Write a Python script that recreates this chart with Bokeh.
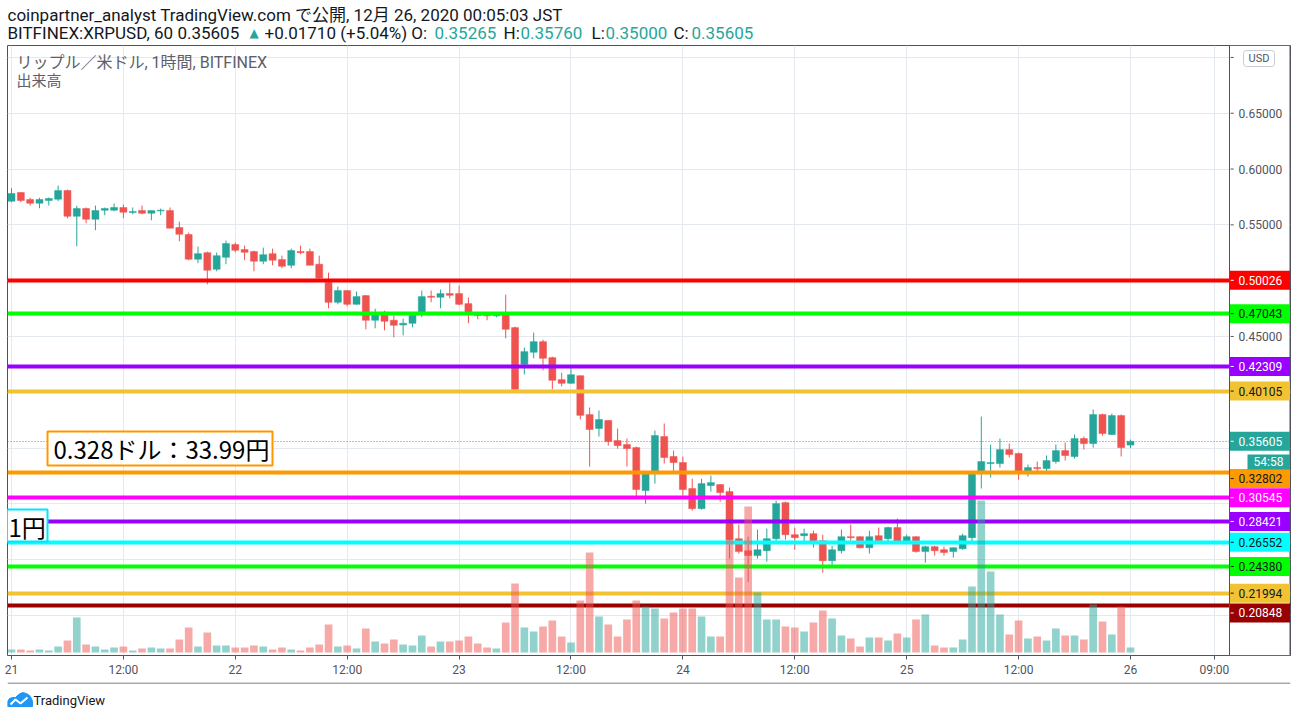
from bokeh.plotting import figure
from bokeh.layouts import column
from bokeh.models import (Range1d, FixedTicker, Label, BoxAnnotation, ColumnDataSource,
                          NumeralTickFormatter)
from bokeh.embed import file_html
from bokeh.resources import INLINE

# ---------------- data (hourly candles, Dec 21 00:00 .. Dec 26 00:00 JST) ----------------
hours = list(range(121))
opens = [0.5712, 0.5790, 0.5727, 0.5694, 0.5718, 0.5730, 0.5807, 0.5577, 0.5646, 0.5550,
         0.5631, 0.5631, 0.5655, 0.5610, 0.5628, 0.5604, 0.5625, 0.5628, 0.5476, 0.5413,
         0.5192, 0.5251, 0.5102, 0.5209, 0.5323, 0.5278, 0.5260, 0.5174, 0.5242, 0.5189,
         0.5138, 0.5260, 0.5260, 0.5147, 0.4983, 0.4806, 0.4911, 0.4788, 0.4866, 0.4645,
         0.4717, 0.4645, 0.4603, 0.4618, 0.4717, 0.4860, 0.4851, 0.4884, 0.4884, 0.4794,
         0.4696, 0.4690, 0.4684, 0.4708, 0.4579, 0.4250, 0.4358, 0.4453, 0.4310, 0.4113,
         0.4080, 0.4148, 0.3800, 0.3675, 0.3747, 0.3567, 0.3531, 0.3504, 0.3119, 0.3289,
         0.3603, 0.3424, 0.3370, 0.3137, 0.2957, 0.3164, 0.3173, 0.3110, 0.2688, 0.2580,
         0.2536, 0.2580, 0.2688, 0.3011, 0.2724, 0.2715, 0.2733, 0.2670, 0.2491, 0.2580,
         0.2706, 0.2706, 0.2607, 0.2715, 0.2688, 0.2787, 0.2661, 0.2706, 0.2572, 0.2616,
         0.2589, 0.2572, 0.2598, 0.2697, 0.3280, 0.3361, 0.3361, 0.3486, 0.3451, 0.3289,
         0.3325, 0.3316, 0.3379, 0.3477, 0.3424, 0.3585, 0.3540, 0.3800, 0.3621, 0.3791,
         0.35265]
highs = [0.5828, 0.5792, 0.5742, 0.5742, 0.5745, 0.5852, 0.5816, 0.5670, 0.5655, 0.5673,
         0.5655, 0.5691, 0.5682, 0.5655, 0.5673, 0.5628, 0.5646, 0.5655, 0.5529, 0.5431,
         0.5305, 0.5260, 0.5251, 0.5359, 0.5341, 0.5314, 0.5269, 0.5296, 0.5287, 0.5224,
         0.5287, 0.5314, 0.5287, 0.5224, 0.5072, 0.4947, 0.4915, 0.4902, 0.4870, 0.4749,
         0.4731, 0.4690, 0.4660, 0.4708, 0.4911, 0.4911, 0.4920, 0.4983, 0.4956, 0.4848,
         0.4708, 0.4708, 0.4708, 0.4875, 0.4588, 0.4400, 0.4534, 0.4471, 0.4319, 0.4175,
         0.4214, 0.4150, 0.3863, 0.3836, 0.3750, 0.3675, 0.3585, 0.3513, 0.3285, 0.3657,
         0.3720, 0.3477, 0.3424, 0.3226, 0.3226, 0.3253, 0.3176, 0.3146, 0.2814, 0.2706,
         0.2769, 0.2778, 0.3029, 0.3020, 0.2787, 0.2778, 0.2760, 0.2724, 0.2625, 0.2769,
         0.2814, 0.2710, 0.2760, 0.2787, 0.2796, 0.2868, 0.2724, 0.2710, 0.2625, 0.2625,
         0.2616, 0.2610, 0.2733, 0.3280, 0.3782, 0.3531, 0.3585, 0.3540, 0.3460, 0.3352,
         0.3379, 0.3433, 0.3531, 0.3549, 0.3621, 0.3603, 0.3845, 0.3809, 0.3809, 0.3800,
         0.35760]
lows = [0.5703, 0.5703, 0.5673, 0.5649, 0.5673, 0.5712, 0.5559, 0.5308, 0.5514, 0.5452,
        0.5586, 0.5622, 0.5559, 0.5595, 0.5595, 0.5541, 0.5586, 0.5470, 0.5353, 0.5183,
        0.5156, 0.4967, 0.5084, 0.5147, 0.5254, 0.5183, 0.5084, 0.5147, 0.5138, 0.5111,
        0.5111, 0.5236, 0.5138, 0.5015, 0.4752, 0.4788, 0.4770, 0.4785, 0.4564, 0.4573,
        0.4555, 0.4492, 0.4510, 0.4582, 0.4672, 0.4806, 0.4752, 0.4842, 0.4779, 0.4618,
        0.4654, 0.4645, 0.4672, 0.4483, 0.4020, 0.4160, 0.4304, 0.4196, 0.4026, 0.4053,
        0.4077, 0.3757, 0.3334, 0.3603, 0.3522, 0.3495, 0.3334, 0.3065, 0.3002, 0.3181,
        0.3361, 0.3289, 0.3074, 0.2939, 0.2948, 0.3110, 0.3020, 0.2509, 0.2554, 0.2300,
        0.2509, 0.2482, 0.2670, 0.2679, 0.2589, 0.2661, 0.2607, 0.2383, 0.2446, 0.2554,
        0.2670, 0.2600, 0.2554, 0.2665, 0.2661, 0.2655, 0.2655, 0.2563, 0.2473, 0.2536,
        0.2536, 0.2518, 0.2589, 0.2661, 0.3137, 0.3235, 0.3325, 0.3415, 0.3217, 0.3244,
        0.3280, 0.3280, 0.3361, 0.3388, 0.3406, 0.3486, 0.3504, 0.3612, 0.3618, 0.3424,
        0.35000]
closes = [0.5781, 0.5718, 0.5694, 0.5727, 0.5736, 0.5807, 0.5577, 0.5646, 0.5550, 0.5628,
          0.5646, 0.5655, 0.5613, 0.5619, 0.5604, 0.5628, 0.5631, 0.5470, 0.5416, 0.5192,
          0.5242, 0.5093, 0.5224, 0.5332, 0.5272, 0.5254, 0.5174, 0.5233, 0.5183, 0.5129,
          0.5269, 0.5251, 0.5138, 0.5022, 0.4806, 0.4911, 0.4788, 0.4857, 0.4645, 0.4708,
          0.4636, 0.4600, 0.4618, 0.4690, 0.4857, 0.4851, 0.4884, 0.4869, 0.4788, 0.4717,
          0.4687, 0.4684, 0.4690, 0.4564, 0.4026, 0.4364, 0.4453, 0.4304, 0.4107, 0.4080,
          0.4157, 0.3793, 0.3666, 0.3756, 0.3558, 0.3522, 0.3495, 0.3128, 0.3280, 0.3612,
          0.3415, 0.3370, 0.3128, 0.2957, 0.3181, 0.3190, 0.3101, 0.2679, 0.2572, 0.2536,
          0.2589, 0.2688, 0.3002, 0.2724, 0.2697, 0.2733, 0.2661, 0.2491, 0.2589, 0.2706,
          0.2697, 0.2607, 0.2706, 0.2670, 0.2787, 0.2661, 0.2706, 0.2572, 0.2616, 0.2580,
          0.2563, 0.2607, 0.2715, 0.3280, 0.3379, 0.3370, 0.3486, 0.3442, 0.3289, 0.3325,
          0.3316, 0.3388, 0.3477, 0.3433, 0.3585, 0.3540, 0.3800, 0.3630, 0.3791, 0.3504,
          0.35605]
volumes = [3, 3, 2, 3, 2, 6, 12, 35, 8, 6, 3, 5, 6, 2, 4, 5, 4, 4, 13, 25,
           6, 20, 7, 7, 5, 5, 7, 6, 3, 5, 3, 2, 5, 8, 28, 6, 7, 4, 24, 11,
           9, 13, 8, 7, 17, 6, 11, 11, 12, 16, 9, 5, 4, 30, 69, 25, 21, 26, 32, 16,
           10, 52, 100, 36, 28, 16, 33, 52, 46, 44, 34, 40, 44, 44, 36, 16, 16, 126, 75, 146,
           60, 33, 33, 26, 25, 21, 30, 42, 34, 17, 14, 6, 15, 15, 12, 19, 15, 33, 38, 7,
           5, 5, 13, 66, 152, 81, 38, 18, 32, 14, 16, 12, 24, 17, 17, 13, 48, 31, 18, 46,
           5]

tick_hours = [0, 12, 24, 36, 48, 60, 72, 84, 96, 108, 120, 129]
tick_labels = ["21", "12:00", "22", "12:00", "23", "12:00", "24", "12:00", "25", "12:00", "26", "09:00"]
price_ticks = [0.45, 0.55, 0.60, 0.65]
grid_prices = [0.20, 0.25, 0.30, 0.35, 0.40, 0.45, 0.50, 0.55, 0.60, 0.65, 0.70]

level_prices = [0.50026, 0.47043, 0.42309, 0.40105, 0.32802, 0.30545, 0.28421, 0.26552, 0.24380, 0.21994, 0.20848]
level_colors = ["#ff0000", "#00ff00", "#9900ff", "#f1c232", "#ff9900", "#ff00ff", "#9900ff", "#00ffff", "#00ff00", "#f1c232", "#990000"]
level_text_colors = ["white", "#131722", "white", "#131722", "#131722", "white", "white", "#131722", "#131722", "#131722", "white"]
level_label_shift_px = [0, 0, 0, 0, 6, 0, 0, 0, 0, 0, 7]

last_close = 0.35605
countdown = "54:58"

GREEN = "#26a69a"
RED = "#ef5350"
TXT = "#131722"
AX = "#50535e"
W = 1296
# all three stacked figures share the same inner frame: page x 7..1290
FL, FR = 7, 6
CHART_END = 130.62      # hour value at the price-column edge (page x 1229)

# ---------------- header ----------------
hdr = figure(width=W, height=45, output_backend="svg", toolbar_location=None,
             x_range=Range1d(FL, W - FR), y_range=Range1d(45, 0),
             x_axis_type=None, y_axis_type=None,
             min_border_left=FL, min_border_right=FR, min_border_top=0, min_border_bottom=0,
             background_fill_color="white", border_fill_color="white")
hdr.outline_line_color = None
hdr.grid.visible = False
hdr.add_layout(Label(x=7, y=14, text="coinpartner_analyst TradingView.com で公開, 12月 26, 2020 00:05:03 JST",
                     text_font="Roboto, 'Noto Sans CJK JP'", text_font_size="17px", text_color=TXT,
                     text_baseline="middle", text_align="left"))
header_parts = [
    ("BITFINEX:XRPUSD, 60 0.35605", 7, TXT, "17px"),
    ("▲", 249, GREEN, "12px"),
    ("+0.01710 (+5.04%) O:", 264, TXT, "17px"),
    ("0.35265", 434, GREEN, "17px"),
    ("H:", 503, TXT, "17px"),
    ("0.35760", 520, GREEN, "17px"),
    ("L:", 591, TXT, "17px"),
    ("0.35000", 605, GREEN, "17px"),
    ("C:", 673, TXT, "17px"),
    ("0.35605", 691, GREEN, "17px"),
]
for txt, hx, col, fs in header_parts:
    hdr.add_layout(Label(x=hx, y=32, text=txt, text_font="Roboto, 'DejaVu Sans'",
                         text_font_size=fs, text_color=col,
                         text_baseline="middle", text_align="left"))

# ---------------- main chart ----------------
# frame: page x 7..1290, y 45..655; chart area ends at x=1229, price column after it
p = figure(width=W, height=637, output_backend="svg", toolbar_location=None,
           x_range=Range1d(-0.429, 137.16), y_range=Range1d(0.1641, 0.7107),
           y_axis_location="right",
           min_border_left=FL, min_border_right=FR, min_border_top=0, min_border_bottom=27,
           background_fill_color="white", border_fill_color="white")
p.extra_y_ranges = {"vol": Range1d(-3, 607)}
p.outline_line_color = AX
p.outline_line_width = 1

colors = [GREEN if c >= o else RED for o, c in zip(opens, closes)]
src = ColumnDataSource(dict(
    x=hours, o=opens, h=highs, l=lows, c=closes,
    top=[max(o, c) for o, c in zip(opens, closes)],
    bottom=[min(o, c) for o, c in zip(opens, closes)],
    color=colors, vol=volumes))

p.segment(x0="x", y0="h", x1="x", y1="l", line_color="color", line_width=1, source=src)
p.vbar(x="x", width=0.75, top="top", bottom="bottom", fill_color="color", line_color="color",
       line_width=0.5, source=src)

lvl_src = ColumnDataSource(dict(y=level_prices, color=level_colors))
p.hspan(y="y", line_color="color", line_width=4, source=lvl_src)
p.hspan(y=[last_close], line_color=GREEN, line_width=1, line_dash="1 2")

p.vbar(x="x", width=0.82, top="vol", bottom=0, y_range_name="vol", fill_color="color",
       fill_alpha=0.5, line_color=None, source=src)

p.xgrid.ticker = FixedTicker(ticks=tick_hours)
p.ygrid.ticker = FixedTicker(ticks=grid_prices)
for g in (p.xgrid[0], p.ygrid[0]):
    g.grid_line_color = "#e3e9ef"
    g.grid_line_width = 1

# time axis (below the frame)
xa = p.xaxis[0]
xa.ticker = FixedTicker(ticks=tick_hours)
xa.major_label_overrides = {h: t for h, t in zip(tick_hours, tick_labels)}
xa.major_tick_out = 4
xa.major_tick_in = 0
xa.major_label_standoff = 3

# price axis: sits on the right frame edge, labels pulled into the price column
ya = p.yaxis[0]
ya.ticker = FixedTicker(ticks=price_ticks)
ya.formatter = NumeralTickFormatter(format="0.00000")
ya.major_tick_out = 0
ya.major_tick_in = 0
ya.major_label_standoff = -52
ya.level = "overlay"
for ax in (xa, ya):
    ax.axis_line_color = None
    ax.major_tick_line_color = AX
    ax.minor_tick_line_color = None
    ax.major_label_text_font = "Roboto"
    ax.major_label_text_font_size = "12px"
    ax.major_label_text_color = AX

# price column background (x 1229..1290) with its separator line
p.add_layout(BoxAnnotation(left=1222, right=1282.5, left_units="screen", right_units="screen",
                           fill_color="white", fill_alpha=1, line_color=AX, line_alpha=1,
                           line_width=1))

half = 9.5 / 1116.0
label_centres = []
for pr, col, tc, sh in zip(level_prices, level_colors, level_text_colors, level_label_shift_px):
    yc = pr - sh / 1116.0
    label_centres.append(yc)
    p.add_layout(BoxAnnotation(left=1222.5, right=1282.5, left_units="screen", right_units="screen",
                               top=yc + half, bottom=yc - half, fill_color=col, fill_alpha=1,
                               line_color=None))
    p.add_layout(Label(x=1231, x_units="screen", y=yc, text=f"{pr:.5f}", text_font="Roboto",
                       text_font_size="12px", text_color=tc, text_baseline="middle",
                       text_align="left"))

p.add_layout(BoxAnnotation(left=1222.5, right=1282.5, left_units="screen", right_units="screen",
                           top=last_close + half, bottom=last_close - half, fill_color=GREEN,
                           fill_alpha=1, line_color=None))
p.add_layout(Label(x=1231, x_units="screen", y=last_close, text=f"{last_close:.5f}",
                   text_font="Roboto", text_font_size="12px", text_color="white",
                   text_baseline="middle", text_align="left"))
p.add_layout(BoxAnnotation(left=1240, right=1282.5, bottom=186, top=201,
                           left_units="screen", right_units="screen",
                           bottom_units="screen", top_units="screen",
                           fill_color=GREEN, fill_alpha=1, line_color=None))
p.add_layout(Label(x=1261, y=193.5, x_units="screen", y_units="screen", text=countdown,
                   text_font="Roboto", text_font_size="12px", text_color="white",
                   text_baseline="middle", text_align="center"))

# small tick marks of the price scale (drawn above the price column)
tick_y = price_ticks + [0.70] + label_centres + [last_close]
tick_c = [AX] * (len(price_ticks) + 1) + level_text_colors + ["white"]
p.segment(x0=[CHART_END + 0.12] * len(tick_y), x1=[CHART_END + 0.45] * len(tick_y),
          y0=tick_y, y1=tick_y, line_color=tick_c, line_width=1, level="overlay")

p.add_layout(BoxAnnotation(left=1236, right=1267, bottom=589, top=605,
                           left_units="screen", right_units="screen",
                           bottom_units="screen", top_units="screen",
                           fill_color="white", fill_alpha=1, line_color="#c8cbd3", line_alpha=1,
                           line_width=1, border_radius=3))
p.add_layout(Label(x=1251.5, y=597, x_units="screen", y_units="screen", text="USD",
                   text_font="Roboto", text_font_size="11px", text_color=AX,
                   text_baseline="middle", text_align="center"))

# annotation boxes drawn on the chart
p.add_layout(BoxAnnotation(left=40, right=265, bottom=190, top=224,
                           left_units="screen", right_units="screen",
                           bottom_units="screen", top_units="screen",
                           fill_color="white", fill_alpha=1, line_color="#ff9800", line_alpha=1,
                           line_width=2))
p.add_layout(Label(x=46, y=207, x_units="screen", y_units="screen", text="0.328ドル：33.99円",
                   text_font="Noto Sans CJK JP", text_font_size="24px", text_color="black",
                   text_baseline="middle", text_align="left"))
p.add_layout(BoxAnnotation(left=-2, right=40, bottom=114, top=146,
                           left_units="screen", right_units="screen",
                           bottom_units="screen", top_units="screen",
                           fill_color="white", fill_alpha=1, line_color="#00e5ff", line_alpha=1,
                           line_width=2))
p.add_layout(Label(x=1, y=129, x_units="screen", y_units="screen", text="1円",
                   text_font="Noto Sans CJK JP", text_font_size="24px", text_color="black",
                   text_baseline="middle", text_align="left"))

# chart legend
p.add_layout(Label(x=9, y=593, x_units="screen", y_units="screen",
                   text="リップル／米ドル, 1時間, BITFINEX",
                   text_font="Roboto, 'Noto Sans CJK JP'", text_font_size="16px", text_color="#5d606b",
                   text_baseline="middle", text_align="left"))
p.add_layout(Label(x=9, y=576, x_units="screen", y_units="screen", text="出来高",
                   text_font="'Noto Sans CJK JP'", text_font_size="15px", text_color="#5d606b",
                   text_baseline="middle", text_align="left"))

# ---------------- footer ----------------
ftr = figure(width=W, height=36, output_backend="svg", toolbar_location=None,
             x_range=Range1d(FL, W - FR), y_range=Range1d(718, 682),
             x_axis_type=None, y_axis_type=None,
             min_border_left=FL, min_border_right=FR, min_border_top=0, min_border_bottom=0,
             background_fill_color="white", border_fill_color="white")
ftr.outline_line_color = None
ftr.grid.visible = False
ftr.segment(x0=[7], y0=[682.5], x1=[1290], y1=[682.5], line_color=AX, line_width=1)
ftr.patch(x=[7, 7, 9, 12, 15, 18, 22, 26, 29, 31, 32, 32],
          y=[706, 701, 698, 697, 697, 694, 692, 693, 695, 698, 701, 706],
          fill_color="#2196f3", line_color="#2196f3")
ftr.line(x=[10, 15, 20, 27], y=[704, 699, 703, 697], line_color="white", line_width=2)
ftr.add_layout(Label(x=33, y=700, text="TradingView", text_font="Roboto",
                     text_font_size="13px", text_color=TXT,
                     text_baseline="middle", text_align="left"))

layout = column(hdr, p, ftr, spacing=0)
open("out.html", "w").write(file_html(layout, INLINE))
